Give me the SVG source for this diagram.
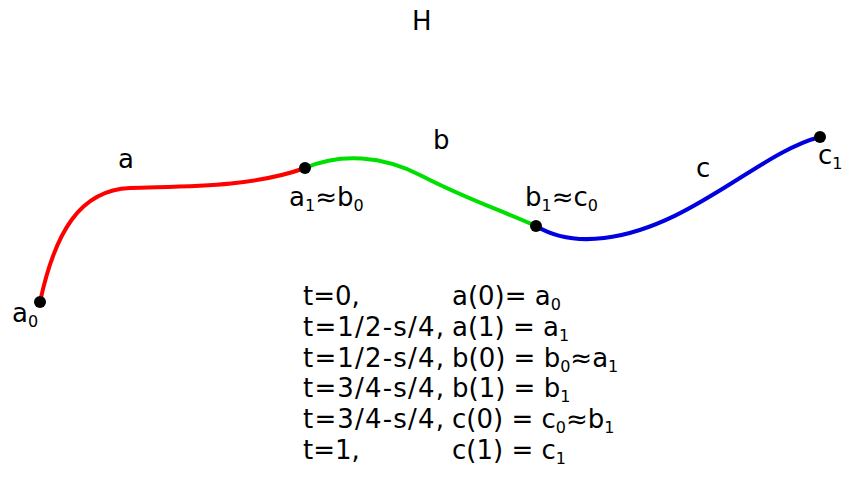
<svg xmlns="http://www.w3.org/2000/svg" width="843" height="483" viewBox="0 0 843 483">
<style>
text{font-family:"DejaVu Sans",Verdana,sans-serif;font-size:26px;fill:#000}
.s{font-size:16px}
.crv{fill:none;stroke-width:4;stroke-linecap:round}
.pt{fill:#000}
</style>
<rect width="843" height="483" fill="#fff"/>
<text x="412" y="30">H</text>
<g id="connectors">
<path id="curve-a" class="crv" stroke="#ff0000" d="M40,302 C55,232 80,190 130,188 S250,188 305,168"/>
<path id="curve-b" class="crv" stroke="#00e000" d="M305,168 C340,153 382,155 422,176 S500,210 536,226"/>
<path id="curve-c" class="crv" stroke="#0000e0" d="M536,226 C556,238 580,241 604,238 C690,228 760,152 820,137"/>
</g>
<g id="a0"><circle class="pt" cx="40" cy="302" r="6"/><text x="12" y="322">a<tspan class="s" dy="5">0</tspan></text></g>
<g id="a1b0"><circle class="pt" cx="305" cy="168" r="6"/><text x="289" y="206">a<tspan class="s" dy="5">1</tspan><tspan dy="-5">≈b</tspan><tspan class="s" dy="5">0</tspan></text></g>
<g id="b1c0"><circle class="pt" cx="536" cy="226" r="6"/><text x="525" y="206">b<tspan class="s" dy="5">1</tspan><tspan dy="-5">≈c</tspan><tspan class="s" dy="5">0</tspan></text></g>
<g id="c1"><circle class="pt" cx="820" cy="137" r="6"/><text x="818" y="164">c<tspan class="s" dy="5">1</tspan></text></g>
<g id="labels">
<text x="118" y="168">a</text>
<text x="433" y="149">b</text>
<text x="696" y="177">c</text>
</g>
<g id="table">
<text x="303" y="305">t=0,</text><text x="452" y="305">a(0)= a<tspan class="s" dy="5">0</tspan></text>
<text x="303" y="336" textLength="141">t=1/2-s/4,</text><text x="452" y="336">a(1) = a<tspan class="s" dy="5">1</tspan></text>
<text x="303" y="367" textLength="141">t=1/2-s/4,</text><text x="452" y="367">b(0) = b<tspan class="s" dy="5">0</tspan><tspan dy="-5">≈a</tspan><tspan class="s" dy="5">1</tspan></text>
<text x="303" y="397" textLength="141">t=3/4-s/4,</text><text x="452" y="397">b(1) = b<tspan class="s" dy="5">1</tspan></text>
<text x="303" y="428" textLength="141">t=3/4-s/4,</text><text x="452" y="428">c(0) = c<tspan class="s" dy="5">0</tspan><tspan dy="-5">≈b</tspan><tspan class="s" dy="5">1</tspan></text>
<text x="303" y="459">t=1,</text><text x="452" y="459">c(1) = c<tspan class="s" dy="5">1</tspan></text>
</g>
</svg>
